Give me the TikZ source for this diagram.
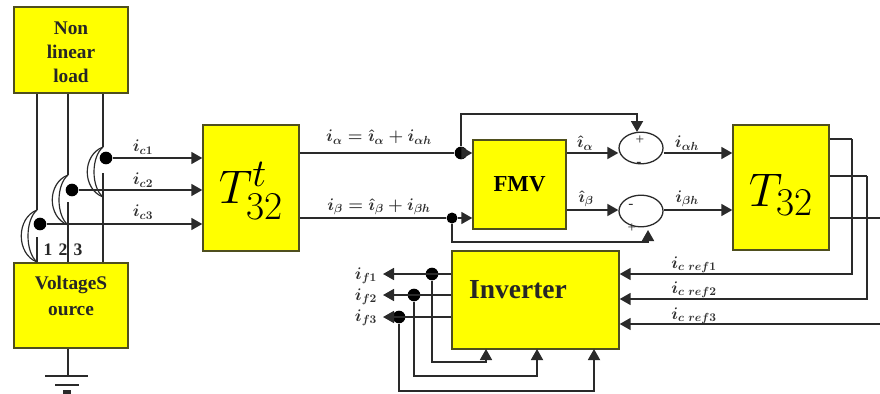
\documentclass[tikz,border=0pt]{standalone}
\usepackage{amsmath, amssymb}
\usepackage{fontspec}
\setmainfont{Liberation Serif}
\usetikzlibrary{arrows.meta}
\usetikzlibrary{positioning,shapes.geometric}
\definecolor{wirecol}{HTML}{2A2A2A}
\definecolor{labelcol}{HTML}{2E2E2E}
\definecolor{boxcol}{HTML}{FFFF00}
\definecolor{edgecol}{HTML}{4F4F1E}
\tikzset{
    block/.style={
        draw=edgecol,
        fill=boxcol,
        line width=1.2pt,
        inner sep=0pt,
        align=center
    },
    boxtext/.style={
        font=\fontsize{16.5}{20.5}\selectfont\bfseries,
        text=black!85,
        align=center,
        inner sep=0pt
    },
    bigmath/.style={
        text=black,
        font=\Huge,
        scale=1.62,
        inner sep=0pt
    },
    sumnode/.style={
        draw=wirecol,
        ellipse,
        fill=white,
        line width=1.1pt,
        minimum width=1.32cm,
        minimum height=0.95cm,
        inner sep=0pt
    },
    dot/.style={
        fill=black,
        circle,
        minimum size=0.38cm,
        inner sep=0pt
    },
    wire/.style={
        draw=wirecol,
        line width=1.5pt
    },
    flow/.style={
        wire,
        -{Triangle[length=3.3mm, width=3.6mm]}
    },
    thinwire/.style={
        draw=wirecol,
        line width=1pt
    },
    cur/.style={
        text=labelcol,
        font=\Large\boldmath,
        inner sep=0pt
    },
    sign/.style={
        text=labelcol,
        font=\fontsize{13}{13}\selectfont,
        inner sep=0pt
    },
    phase/.style={
        font=\fontsize{15}{15}\selectfont\bfseries,
        text=black!85,
        inner sep=0pt
    }
}

\begin{document}
\begin{tikzpicture}[x=0.03cm,y=-0.03cm]
  \useasboundingbox (0,0) rectangle (880,393);

  % Feeder lines and crossings
  \node[block, minimum width=3.42cm, minimum height=2.58cm] (load) at (71,50) {};
  \node[block, minimum width=3.42cm, minimum height=2.55cm] (source) at (71,305.5) {};
  \node[boxtext] (loadtext) at (71,52) {Non\\linear\\load};
  \node[boxtext] (sourcetext) at (71,296) {VoltageS\\[1.5pt]ource};

  \foreach \px/\ytop/\ybot/\yres/\name in {37/210/262/237/a, 68/175/225/202/b, 103/147/197/173/c}{
    \coordinate (top\name) at (\px,\ytop);
    \coordinate (bot\name) at (\px,\ybot);
    \coordinate (res\name) at (\px,\yres);
    \draw[thinwire] (load.south -| top\name) -- (top\name);
    \draw[thinwire] (res\name) -- (source.north -| res\name);
    \draw[thinwire] (top\name) .. controls +(-21,8) and +(-21,-8) .. (bot\name);
    \draw[thinwire] (top\name) .. controls +(-12,10) and +(-12,-10) .. (bot\name);
  }
  \node[phase] (n1) at (48,250) {1};
  \node[phase] (n2) at (63,250) {2};
  \node[phase] (n3) at (78,250) {3};

  % Ground
  \coordinate (gnd) at (68,376);
  \draw[wire] (source.south -| gnd) -- (gnd);
  \draw[line width=2.2pt, draw=wirecol] (45,376) -- (88,376);
  \draw[line width=2.2pt, draw=wirecol] (55,385) -- (79,385);
  \draw[line width=2.6pt, draw=wirecol] (63,392) -- (71,392);

  % Main blocks
  \node[block, minimum width=2.88cm, minimum height=3.78cm] (ttinv) at (251,188) {};
  \node[bigmath] (ttinvtext) at (251,191) {$T^{t}_{32}$};
  \node[block, minimum width=2.79cm, minimum height=2.67cm, font=\fontsize{19.5}{20}\selectfont\bfseries] (fmv) at (519.5,184.5) {FMV};
  \node[block, minimum width=2.88cm, minimum height=3.75cm] (tt) at (781,187.5) {};
  \node[bigmath] (tttext) at (781,195) {$T_{32}$};
  \node[block, minimum width=5.01cm, minimum height=2.94cm] (inv) at (535.5,300) {};
  \node[boxtext, font=\fontsize{23.5}{24}\selectfont\bfseries] (invtext) at (518,290) {Inverter};

  \node[sumnode] (suma) at (641,148) {};
  \node[sumnode] (sumb) at (641,211) {};
  \node[sign] (sa1) at (640,140) {+};
  \node[sign] (sa2) at (639,164) {-};
  \node[sign] (sb1) at (631,206) {-};
  \node[sign] (sb2) at (632,228) {+};

  % Measured currents
  \node[dot] (dc1) at (106,158) {};
  \node[dot] (dc2) at (72,190) {};
  \node[dot] (dc3) at (40,224) {};
  \draw[flow] (dc1) -- (ttinv.west |- dc1);
  \draw[flow] (dc2) -- (ttinv.west |- dc2);
  \draw[flow] (dc3) -- (ttinv.west |- dc3);
  \node[cur] (lc1) at (143,147) {$i_{c1}$};
  \node[cur] (lc2) at (143,180) {$i_{c2}$};
  \node[cur] (lc3) at (143,212) {$i_{c3}$};

  % Alpha and beta paths
  \node[dot] (da) at (461,153) {};
  \node[dot, minimum size=0.33cm] (db) at (452,218) {};
  \draw[wire] (ttinv.east |- da) -- (da);
  \draw[wire] (ttinv.east |- db) -- (db);
  \draw[flow] (da) -- (fmv.west |- da);
  \draw[flow] (db) -- (fmv.west |- db);
  \coordinate (upa) at (461,114);
  \coordinate (downb) at (452,242);
  \coordinate (intoa) at (637,132);
  \coordinate (intob) at (648,230);
  \draw[flow] (da) -- (upa) -| (intoa);
  \draw[flow] (db) -- (downb) -| (intob);
  \coordinate (oa) at (566,153);
  \coordinate (ob) at (566,210);
  \draw[flow] (fmv.east |- oa) -- (suma.west |- oa);
  \draw[flow] (fmv.east |- ob) -- (sumb.west |- ob);
  \draw[flow] (suma.east |- oa) -- (tt.west |- oa);
  \draw[flow] (sumb.east |- ob) -- (tt.west |- ob);
  \node[cur] (lia) at (379,137) {$i_{\alpha}=\hat{\imath}_{\alpha}+i_{\alpha h}$};
  \node[cur] (lib) at (379,207) {$i_{\beta}=\hat{\imath}_{\beta}+i_{\beta h}$};
  \node[cur] (lha) at (585,143) {$\hat{\imath}_{\alpha}$};
  \node[cur] (lhb) at (586,199) {$\hat{\imath}_{\beta}$};
  \node[cur] (lah) at (687,143) {$i_{\alpha h}$};
  \node[cur] (lbh) at (687,199) {$i_{\beta h}$};

  % References back to the inverter
  \coordinate (r1) at (852,139);
  \coordinate (r2) at (867,176);
  \coordinate (r3) at (880,218);
  \coordinate (in1) at (852,274);
  \coordinate (in2) at (867,299);
  \coordinate (in3) at (880,324);
  \draw[thinwire] (tt.east |- r1) -- (r1);
  \draw[thinwire] (tt.east |- r2) -- (r2);
  \draw[thinwire] (tt.east |- r3) -- (r3);
  \draw[flow] (r1) -- (in1) -- (inv.east |- in1);
  \draw[flow] (r2) -- (in2) -- (inv.east |- in2);
  \draw[flow] (in3) -- (inv.east |- in3);
  \node[cur] (lr1) at (694,265) {$i_{c\ ref1}$};
  \node[cur] (lr2) at (694,290) {$i_{c\ ref2}$};
  \node[cur] (lr3) at (694,316) {$i_{c\ ref3}$};

  % Filter currents with feedback
  \node[dot] (df1) at (432,274) {};
  \node[dot] (df2) at (414,295) {};
  \node[dot] (df3) at (399,317) {};
  \coordinate (tf1) at (383,274);
  \coordinate (tf2) at (383,295);
  \coordinate (tf3) at (383,317);
  \draw[flow] (inv.west |- df1) -- (tf1);
  \draw[flow] (inv.west |- df2) -- (tf2);
  \draw[flow] (inv.west |- df3) -- (tf3);
  \coordinate (f1) at (432,362);
  \coordinate (f2) at (414,376);
  \coordinate (f3) at (399,391);
  \coordinate (g1) at (486,349);
  \coordinate (g2) at (537,349);
  \coordinate (g3) at (594,349);
  \draw[flow] (df1) -- (f1) -| (g1);
  \draw[flow] (df2) -- (f2) -| (g2);
  \draw[flow] (df3) -- (f3) -| (g3);
  \node[cur] (lf1) at (366,276) {$i_{f1}$};
  \node[cur] (lf2) at (366,297) {$i_{f2}$};
  \node[cur] (lf3) at (366,318) {$i_{f3}$};
\end{tikzpicture}
\end{document}
